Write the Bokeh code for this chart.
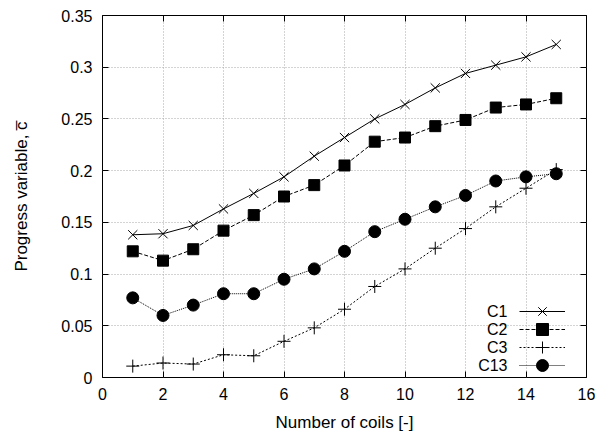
from bokeh.plotting import figure
from bokeh.models import (FixedTicker, LinearAxis, Legend, LegendItem, Label, Range1d,
                          CustomJSTickFormatter)
from bokeh.embed import file_html
from bokeh.resources import INLINE

# ---- data ----
coils = [1, 2, 3, 4, 5, 6, 7, 8, 9, 10, 11, 12, 13, 14, 15]
c1 = [0.138, 0.139, 0.147, 0.163, 0.178, 0.194, 0.214, 0.232, 0.250, 0.264, 0.280, 0.294, 0.302, 0.310, 0.322]
c2 = [0.122, 0.113, 0.124, 0.142, 0.157, 0.175, 0.186, 0.205, 0.228, 0.232, 0.243, 0.249, 0.261, 0.264, 0.270]
c3 = [0.011, 0.014, 0.013, 0.022, 0.021, 0.035, 0.048, 0.066, 0.088, 0.105, 0.125, 0.144, 0.165, 0.183, 0.201]
c13 = [0.077, 0.060, 0.070, 0.081, 0.081, 0.095, 0.105, 0.122, 0.141, 0.153, 0.165, 0.176, 0.190, 0.194, 0.197]
series_names = ["C1", "C2", "C3", "C13"]
x_ticks = [0, 2, 4, 6, 8, 10, 12, 14, 16]
x_tick_labels = ["0", "2", "4", "6", "8", "10", "12", "14", "16"]
y_ticks = [0, 0.05, 0.1, 0.15, 0.2, 0.25, 0.3, 0.35]
y_tick_labels = ["0", "0.05", "0.1", "0.15", "0.2", "0.25", "0.3", "0.35"]
x_label = "Number of coils [-]"
y_label = "Progress variable, c\u0305"

FONT = "Liberation Sans"
FS = "16px"
FS_LABEL = "17px"

p = figure(width=609, height=435, output_backend="svg", toolbar_location=None,
           x_range=Range1d(0, 16), y_range=Range1d(0, 0.35),
           min_border_left=102, min_border_right=23, min_border_top=15, min_border_bottom=58)
p.outline_line_color = "black"
p.outline_line_width = 1
p.background_fill_color = "white"
p.border_fill_color = "white"

# axes
for ax in p.xaxis:
    ax.ticker = FixedTicker(ticks=x_ticks)
    ax.major_label_overrides = {t: l for t, l in zip(x_ticks, x_tick_labels)}
    ax.axis_label = x_label
for ax in p.yaxis:
    ax.ticker = FixedTicker(ticks=y_ticks)
    ax.major_label_overrides = {t: l for t, l in zip(y_ticks, y_tick_labels)}
    ax.axis_label = y_label

for ax in list(p.xaxis) + list(p.yaxis):
    ax.axis_line_color = None
    ax.major_tick_in = 6
    ax.major_tick_out = 0
    ax.minor_tick_line_color = None
    ax.major_tick_line_color = "black"
    ax.major_label_text_font = FONT
    ax.major_label_text_font_size = FS
    ax.major_label_text_color = "black"
    ax.axis_label_text_font = FONT
    ax.axis_label_text_font_size = FS_LABEL
    ax.axis_label_text_font_style = "normal"
    ax.axis_label_text_color = "black"
p.xaxis.major_label_standoff = 10
p.xaxis.axis_label_standoff = 10
p.yaxis.major_label_standoff = 10
p.yaxis.axis_label_standoff = 27

# mirror axes (ticks only, no labels)
blank = CustomJSTickFormatter(code="return ''")
top = LinearAxis(ticker=FixedTicker(ticks=x_ticks), formatter=blank,
                 axis_line_color=None, major_tick_in=6, major_tick_out=0,
                 minor_tick_line_color=None, major_label_standoff=0)
right = LinearAxis(ticker=FixedTicker(ticks=y_ticks), formatter=blank,
                   axis_line_color=None, major_tick_in=6, major_tick_out=0,
                   minor_tick_line_color=None, major_label_standoff=0)
p.add_layout(top, "above")
p.add_layout(right, "right")

# grid
for g in list(p.xgrid) + list(p.ygrid):
    g.grid_line_color = "#a8a8a8"
    g.grid_line_dash = "1 2"
    g.grid_line_width = 1
p.xgrid.ticker = FixedTicker(ticks=x_ticks)
p.ygrid.ticker = FixedTicker(ticks=y_ticks)

styles = [
    (c1, "solid", "x", 13, None),
    (c2, "4 2", "square", 11, "black"),
    (c3, "2 2", "cross", 13, None),
    (c13, "1 1", "circle", 12, "black"),
]

row_h = 18
gh = 30
n = len(series_names)
for i, ((ys, dash, marker, size, fill), name) in enumerate(zip(styles, series_names)):
    l = p.line(coils, ys, line_color="black", line_width=1, line_dash=dash)
    s = p.scatter(coils, ys, marker=marker, size=size, line_color="black",
                  fill_color=fill if fill else None, line_width=1)
    row_center = 3 + row_h * (n - i) - row_h / 2
    leg = Legend(items=[LegendItem(label="", renderers=[l, s])],
                 location=(417, row_center - gh / 2), orientation="vertical",
                 glyph_width=46, glyph_height=gh, label_width=0, label_height=gh,
                 spacing=0, padding=0, margin=0,
                 border_line_color=None, background_fill_alpha=0, label_standoff=0)
    p.add_layout(leg, "center")
    lab = Label(x=405, y=row_center,
                x_units="screen", y_units="screen", text=name,
                text_align="right", text_baseline="middle",
                text_font=FONT, text_font_size=FS, text_color="black")
    p.add_layout(lab)

open("out.html", "w").write(file_html(p, INLINE))
